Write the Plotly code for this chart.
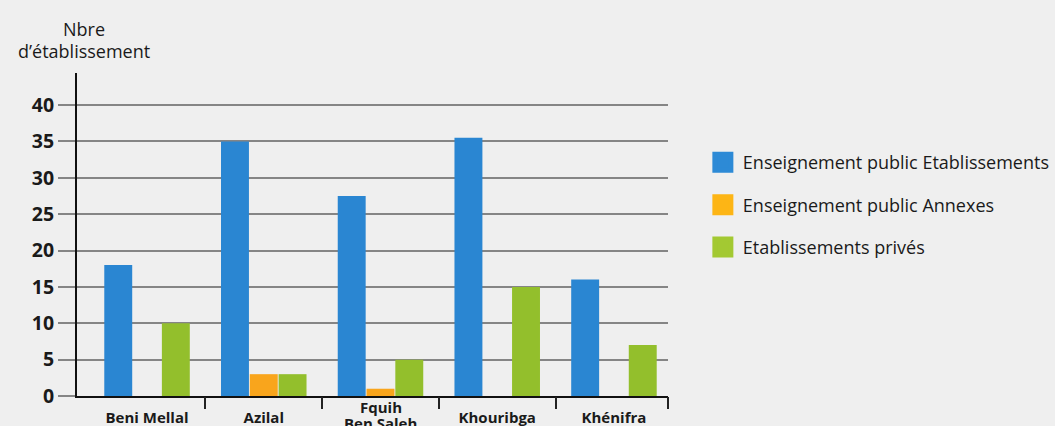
import plotly.graph_objects as go

# data
provinces = ["Beni Mellal", "Azilal", "Fquih<br>Ben Saleh", "Khouribga", "Khénifra"]
public_etab = [18, 35, 27.5, 35.5, 16]
public_annexes = [0, 3, 1, 0, 0]
prives = [10, 3, 5, 15, 7]

series_names = [
    "Enseignement public Etablissements",
    "Enseignement public Annexes",
    "Etablissements privés",
]
bar_colors = ["#2a86d2", "#f9a51c", "#93bf2c"]
legend_colors = ["#2d8ad6", "#fdb515", "#a3c932"]

x_pos = list(range(len(provinces)))
x_range = [-0.6, 4.463]
# separator ticks between provinces, last one at the end of the axis
sep_ticks = [i + 0.5 for i in x_pos[:-1]] + [x_range[1]]

# two-line labels are drawn as annotations (tighter line spacing, raised like the original)
tick_text = []
label_notes = []
for i, p in enumerate(provinces):
    if "<br>" in p:
        tick_text.append("")
        for j, line in enumerate(p.split("<br>")):
            label_notes.append(dict(
                text=f"<b>{line}</b>",
                xref="x", yref="paper", x=i, y=0,
                xanchor="center", yanchor="middle",
                yshift=-11 - 16 * j, showarrow=False,
                font=dict(size=15, color="#1a1a1a"),
            ))
    else:
        tick_text.append(f"<b>{p}</b>")

fig = go.Figure()

for name, vals, col in zip(series_names, [public_etab, public_annexes, prives], bar_colors):
    fig.add_trace(go.Bar(
        x=x_pos, y=vals, name=name,
        marker=dict(color=col, line=dict(width=0)),
        showlegend=False,
    ))

# legend swatches (bigger squares than plotly's bar glyph)
for i, (name, col) in enumerate(zip(series_names, legend_colors)):
    fig.add_trace(go.Scatter(
        x=[None], y=[None], mode="markers", name=name,
        legendgroup=f"g{i}",
        marker=dict(symbol="square", size=16, color=col, line=dict(color=col, width=5)),
    ))

# invisible helper trace for the separator ticks on the category axis
fig.add_trace(go.Scatter(x=[None], y=[None], xaxis="x2", showlegend=False))

fig.update_layout(
    width=1055, height=426,
    margin=dict(l=77, r=387, t=73, b=30, autoexpand=False),
    paper_bgcolor="#efefef",
    plot_bgcolor="#efefef",
    font=dict(family="Open Sans, Noto Sans, sans-serif", color="#1a1a1a"),
    barmode="group",
    bargap=0.26,
    bargroupgap=0.03,
    xaxis=dict(
        range=x_range,
        tickvals=x_pos,
        ticktext=tick_text,
        tickfont=dict(size=15, color="#1a1a1a"),
        ticks="",
        ticklabelstandoff=7,
        showgrid=False,
        showline=True, linecolor="#111111", linewidth=2,
        zeroline=False,
        automargin=False,
        fixedrange=True,
    ),
    xaxis2=dict(
        overlaying="x",
        side="bottom",
        range=x_range,
        tickvals=sep_ticks,
        showticklabels=False,
        ticks="outside", ticklen=12, tickwidth=2, tickcolor="#222222",
        showgrid=False, showline=False, zeroline=False,
        automargin=False,
    ),
    yaxis=dict(
        range=[0, 44.4],
        dtick=5,
        tickfont=dict(size=19.5, color="#1a1a1a"),
        tickprefix="<b>", ticksuffix="</b>",
        ticks="outside", ticklen=17, tickwidth=2, tickcolor="#858585",
        showgrid=True, gridcolor="#858585", gridwidth=2,
        showline=True, linecolor="#111111", linewidth=2,
        zeroline=False,
        automargin=False,
    ),
    legend=dict(
        x=1.059, y=0.78, xanchor="left", yanchor="top",
        font=dict(size=18, color="#1a1a1a"),
        bgcolor="rgba(0,0,0,0)",
        tracegroupgap=16,
        itemsizing="trace",
    ),
    annotations=[
        dict(
            text="Nbre",
            xref="paper", yref="paper",
            x=0.012, y=1.0, xanchor="center", yanchor="middle",
            yshift=44, showarrow=False,
            font=dict(size=18, color="#1a1a1a"),
        ),
        dict(
            text="d’établissement",
            xref="paper", yref="paper",
            x=0.012, y=1.0, xanchor="center", yanchor="middle",
            yshift=22, showarrow=False,
            font=dict(size=18, color="#1a1a1a"),
        ),
    ] + label_notes,
)

fig.write_html(
    "out.html",
    config={"displayModeBar": False},
    post_script="document.body.style.margin='0';document.body.style.background='#efefef';",
)
